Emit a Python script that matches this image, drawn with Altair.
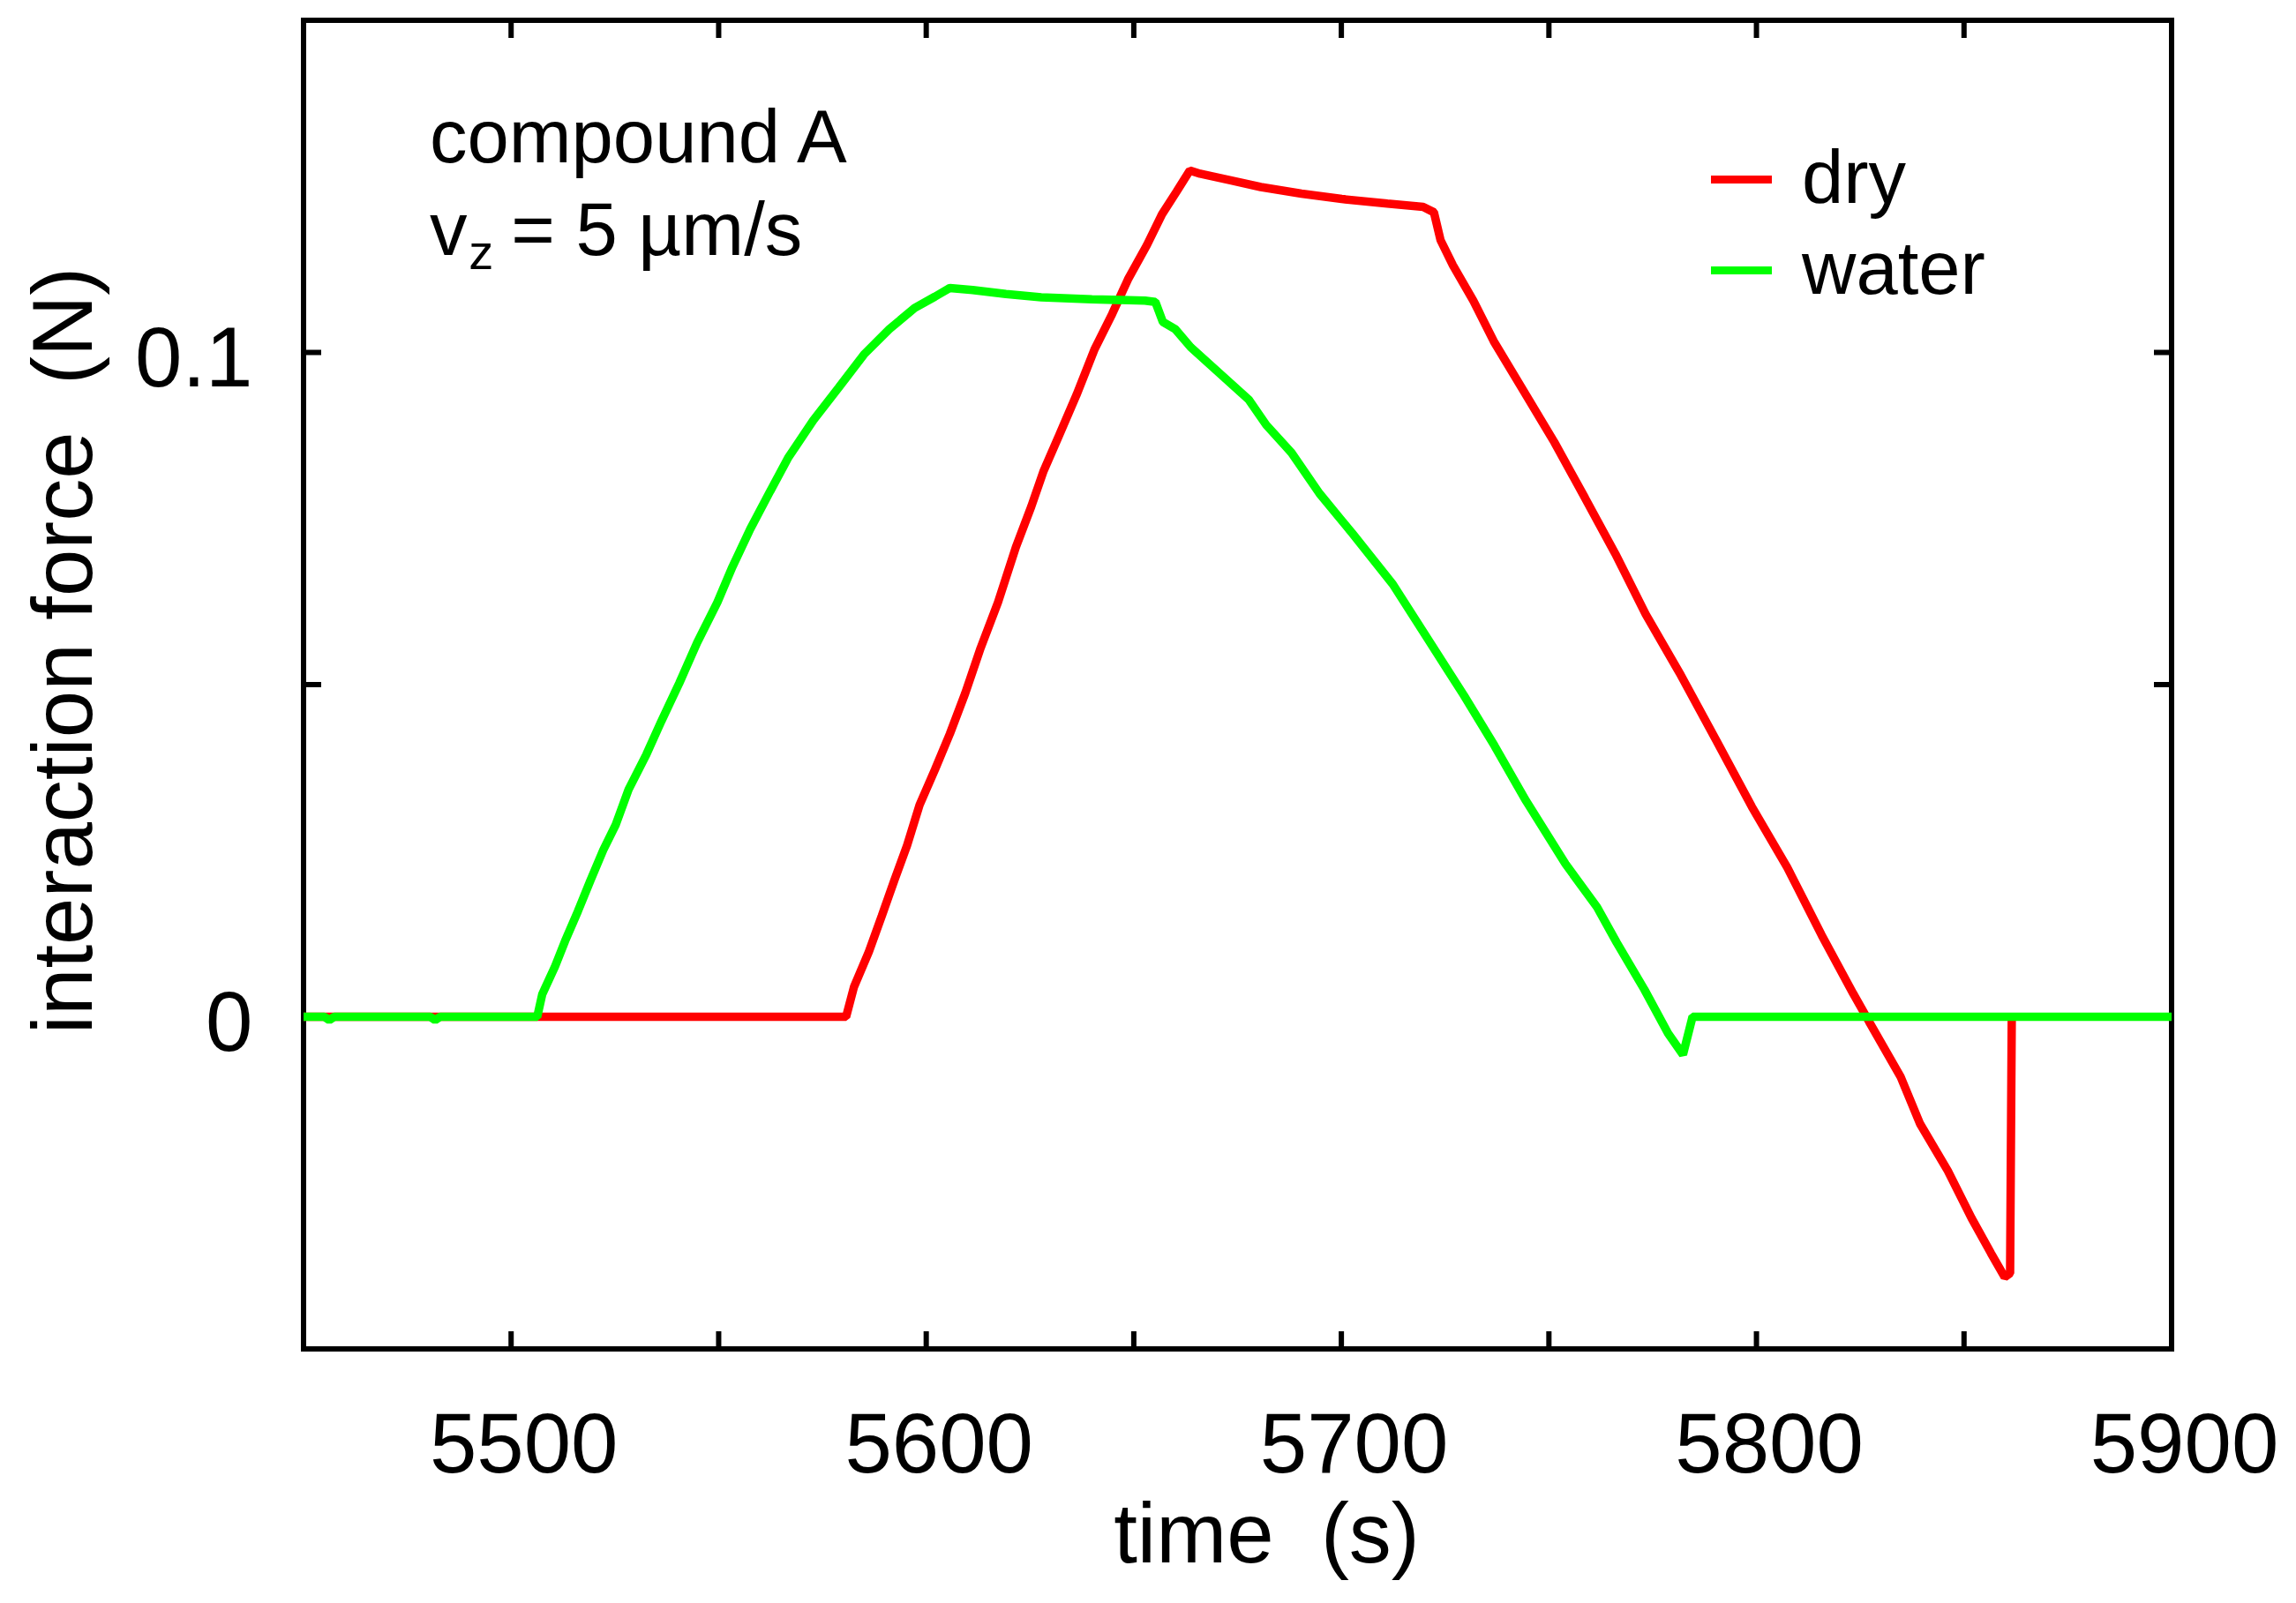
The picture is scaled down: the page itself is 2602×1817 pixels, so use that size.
import altair as alt
import pandas as pd

# ---------------- data ----------------
series = ["dry", "water"]
series_colors = ["#ff0000", "#00ff00"]

dry_t = [5450, 5580.7, 5582.6, 5586.2, 5589.3, 5592.3, 5595.4, 5598.4, 5602.1, 5605.7,
         5609.4, 5613.1, 5617.3, 5621.6, 5625.3, 5628.3, 5632.0, 5636.2, 5640.5, 5644.8,
         5648.6, 5653.2, 5656.8, 5660.3, 5663.5, 5666.0, 5673.3, 5680.6, 5690.4, 5700.1,
         5711.1, 5719.7, 5722.3, 5723.9, 5726.9, 5731.8, 5736.7, 5744.0, 5751.3, 5758.7,
         5766.0, 5773.3, 5781.8, 5790.4, 5798.9, 5807.4, 5815.7, 5823.3, 5827.1, 5834.7,
         5839.4, 5846.1, 5851.8, 5856.5, 5859.8, 5861.1, 5861.5]
dry_f = [0.0, 0.0, 0.0045, 0.0098, 0.0152, 0.0205, 0.0258, 0.0319, 0.0372, 0.0426,
         0.0487, 0.0555, 0.0624, 0.0707, 0.0768, 0.0822, 0.0875, 0.0936, 0.1004, 0.1058,
         0.1110, 0.1162, 0.1208, 0.1242, 0.1274, 0.1269, 0.1259, 0.1249, 0.1239, 0.1231,
         0.1224, 0.1219, 0.1211, 0.1169, 0.1131, 0.1078, 0.1017, 0.0941, 0.0865, 0.0781,
         0.0697, 0.0606, 0.0514, 0.0415, 0.0316, 0.0225, 0.0123, 0.0035, -0.0007, -0.0090,
         -0.0161, -0.0232, -0.0303, -0.0356, -0.0392, -0.0386, 0.0]

water_t = [5450, 5455.0, 5456.2, 5457.4, 5480.5, 5481.7, 5482.9, 5506.3, 5507.5, 5510.6,
           5513.0, 5516.1, 5519.1, 5522.2, 5525.2, 5528.3, 5532.6, 5536.2, 5540.5, 5544.8,
           5549.7, 5553.3, 5557.6, 5562.4, 5566.7, 5572.8, 5578.9, 5585.0, 5591.1, 5597.2,
           5602.1, 5605.7, 5611.2, 5619.2, 5627.7, 5639.9, 5652.7, 5655.2, 5657.0, 5660.0,
           5663.7, 5677.7, 5681.9, 5688.0, 5694.7, 5702.6, 5712.4, 5720.9, 5729.5, 5736.9,
           5744.5, 5754.0, 5761.6, 5766.3, 5773.0, 5778.7, 5782.3, 5784.6, 5900]
water_f = [0.0, 0.0, -0.0005, 0.0, 0.0, -0.0005, 0.0, 0.0, 0.0034, 0.0076,
           0.0114, 0.0159, 0.0205, 0.0251, 0.0289, 0.0342, 0.0395, 0.0445, 0.0502, 0.0563,
           0.0624, 0.0677, 0.0734, 0.0791, 0.0841, 0.0898, 0.0947, 0.0997, 0.1035, 0.1067,
           0.1084, 0.1097, 0.1094, 0.1088, 0.1083, 0.1080, 0.1078, 0.1076, 0.1046, 0.1035,
           0.1008, 0.0929, 0.0891, 0.0849, 0.0788, 0.0728, 0.0651, 0.0568, 0.0484, 0.0408,
           0.0325, 0.0230, 0.0165, 0.0112, 0.0041, -0.0025, -0.0057, 0.0, 0.0]

x_domain = [5450, 5900]
y_domain = [-0.05, 0.15]
x_label_values = [5500, 5600, 5700, 5800, 5900]
x_tick_values = [5500, 5550, 5600, 5650, 5700, 5750, 5800, 5850]
y_label_values = [0, 0.1]
y_tick_values = [0, 0.05, 0.1]

ann_text = ["compound A", "v", "= 5 \u00b5m/s"]
ann_t = [5480.4, 5480.4, 5500.0]
ann_f = [0.1286, 0.1147, 0.1147]
sub_text = ["z"]
sub_t = [5489.8]
sub_f = [0.1126]

# ---------------- layout / style ----------------
W, H = 2117, 1506
FONT = "Liberation Sans"
TICK_LEN = 20

dry_df = pd.DataFrame({"time": dry_t, "force": dry_f, "sample": "dry"})
water_df = pd.DataFrame({"time": water_t, "force": water_f, "sample": "water"})
xt_df = pd.DataFrame({"time": x_tick_values})
yt_df = pd.DataFrame({"force": y_tick_values})
ann_df = pd.DataFrame({"time": ann_t, "force": ann_f, "label": ann_text})
sub_df = pd.DataFrame({"time": sub_t, "force": sub_f, "label": sub_text})

x_axis = alt.Axis(
    values=x_label_values, format="d", ticks=False, tickSize=0, domain=False, grid=False,
    labelFont=FONT, labelFontSize=96, labelColor="black", labelLimit=0,
    labelBaseline="alphabetic", labelPadding=139, labelOffset=14,
    labelFlush=False, labelOverlap=False,
    title="time \u00a0(s)", titleFont=FONT, titleFontSize=96,
    titleFontWeight="normal", titleColor="black", titleLimit=0,
    titleX=1091, titleY=241, titleAlign="center", titleBaseline="alphabetic",
)
y_axis = alt.Axis(
    values=y_label_values, format="~g", ticks=False, tickSize=0, domain=False, grid=False,
    labelFont=FONT, labelFontSize=96, labelColor="black", labelLimit=0,
    labelBaseline="alphabetic", labelAlign="right", labelPadding=58, labelOffset=38,
    labelFlush=False, labelOverlap=False,
    title="interaction force \u00a0(N)", titleFont=FONT, titleFontSize=96,
    titleFontWeight="normal", titleColor="black", titleLimit=0,
    titleX=-241, titleY=714, titleAngle=270, titleAlign="center",
    titleBaseline="alphabetic",
)

x_enc = alt.X("time:Q", scale=alt.Scale(domain=x_domain, nice=False, zero=False), axis=x_axis)
y_enc = alt.Y("force:Q", scale=alt.Scale(domain=y_domain, nice=False, zero=False), axis=y_axis)

color_enc = alt.Color(
    "sample:N",
    scale=alt.Scale(domain=series, range=series_colors),
    legend=alt.Legend(
        orient="none", legendX=1587, legendY=138, title=None,
        symbolType="stroke", symbolSize=4761, symbolStrokeWidth=9,
        labelFont=FONT, labelFontSize=85, labelColor="black", labelLimit=0,
        labelOffset=26, rowPadding=17, padding=0, offset=0,
    ),
)

line_dry = alt.Chart(dry_df).mark_line(strokeWidth=9.5, strokeJoin="bevel").encode(
    x=x_enc, y=y_enc, color=color_enc)
line_water = alt.Chart(water_df).mark_line(strokeWidth=9.5, strokeJoin="bevel").encode(
    x=x_enc, y=y_enc, color=color_enc)

tick_style = dict(color="black", strokeWidth=6, strokeCap="butt")
ticks_bottom = alt.Chart(xt_df).mark_rule(**tick_style).encode(
    x=x_enc, y=alt.value(H - TICK_LEN), y2=alt.value(H))
ticks_top = alt.Chart(xt_df).mark_rule(**tick_style).encode(
    x=x_enc, y=alt.value(0), y2=alt.value(TICK_LEN))
ticks_left = alt.Chart(yt_df).mark_rule(**tick_style).encode(
    y=y_enc, x=alt.value(0), x2=alt.value(TICK_LEN))
ticks_right = alt.Chart(yt_df).mark_rule(**tick_style).encode(
    y=y_enc, x=alt.value(W - TICK_LEN), x2=alt.value(W))

ann = alt.Chart(ann_df).mark_text(
    align="left", baseline="alphabetic", font=FONT, fontSize=85, color="black"
).encode(x=x_enc, y=y_enc, text="label:N")
sub = alt.Chart(sub_df).mark_text(
    align="left", baseline="alphabetic", font=FONT, fontSize=56, color="black"
).encode(x=x_enc, y=y_enc, text="label:N")

chart = alt.layer(
    ticks_bottom, ticks_top, ticks_left, ticks_right,
    line_dry, line_water, ann, sub,
).properties(
    width=W, height=H,
    autosize=alt.AutoSizeParams(type="none"),
    padding={"left": 336, "top": 15, "right": 120, "bottom": 270},
    background="white",
).configure_view(
    stroke="black", strokeWidth=6,
)

chart.save("out.html", embed_options={"renderer": "svg", "actions": False})
